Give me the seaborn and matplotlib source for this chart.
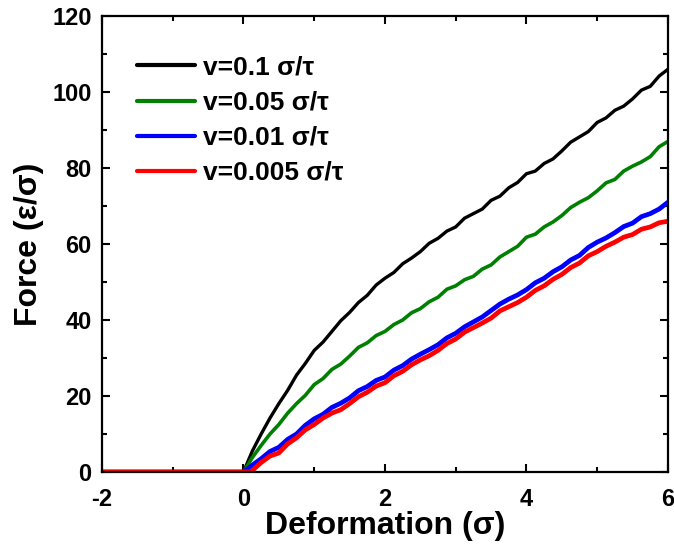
import numpy as np
import pandas as pd
import matplotlib
matplotlib.use("Agg")
import matplotlib.pyplot as plt
import seaborn as sns
from matplotlib.ticker import MultipleLocator

labels = ["v=0.1 σ/τ", "v=0.05 σ/τ", "v=0.01 σ/τ", "v=0.005 σ/τ"]
colors = ["#000000", "#008000", "#0000ff", "#ff0000"]

# deformation grid (sigma): flat region start, then 0 .. 6 in 0.125 steps
x_grid = [-2.0] + list(np.round(np.arange(0, 6.0001, 0.125), 3))

f_black = [0,
           0, 5.5, 10, 14.2, 18, 21.5, 25.5, 28.6, 32, 34.2, 37, 39.8, 42, 44.6, 46.5, 49.2,
           51, 52.5, 54.8, 56.3, 58, 60.2, 61.5, 63.4, 64.5, 66.8, 68, 69.2, 71.5, 72.6, 74.8, 76.2,
           78.5, 79.2, 81.2, 82.4, 84.5, 86.8, 88.2, 89.6, 92, 93.2, 95.2, 96.3, 98.2, 100.5, 101.5, 104.2,
           106]
f_green = [0,
           0, 3.8, 7, 10, 12.5, 15.5, 18, 20.2, 23, 24.6, 27, 28.4, 30.5, 32.8, 34, 35.9,
           37, 38.8, 40, 41.9, 43, 44.8, 46, 48.1, 49, 50.6, 51.5, 53.4, 54.5, 56.6, 58, 59.4,
           61.8, 62.6, 64.5, 65.8, 67.5, 69.6, 71, 72.2, 74, 76.1, 77, 79.2, 80.5, 81.6, 83, 85.6,
           87]
f_blue = [0,
          0, 1.8, 3.5, 5.4, 6.5, 8.6, 10, 12.3, 14, 15.2, 17, 18.1, 19.5, 21.4, 22.5, 24.1,
          25, 26.8, 28, 29.7, 31, 32.2, 33.5, 35.3, 36.5, 38.2, 39.5, 40.8, 42.5, 44.2, 45.5, 46.6,
          48, 49.8, 51, 52.7, 54, 55.8, 57, 59.1, 60.5, 61.6, 63, 64.6, 65.5, 67.2, 68, 69.2,
          71]
# red starts rising slightly later (x = 0.1)
x_red = [-2.0, 0.1] + list(np.round(np.arange(0.125, 6.0001, 0.125), 3))
f_red = [0, 0,
         0.4, 2.5, 4.2, 5, 7.4, 9, 11.1, 12.5, 14.2, 15.5, 16.4, 18, 19.8, 21, 22.6,
         23.5, 25.3, 26.5, 28.2, 29.5, 30.6, 32, 33.8, 35, 36.8, 38, 39.2, 40.5, 42.4, 43.5, 44.6,
         46, 47.8, 49, 50.7, 52, 53.8, 55, 56.9, 58, 59.4, 60.5, 61.8, 62.5, 63.9, 64.5, 65.6,
         66]

xs = [x_grid, x_grid, x_grid, x_red]
fs = [f_black, f_green, f_blue, f_red]
rows = []
for lab, xx, ff in zip(labels, xs, fs):
    for a, b in zip(xx, ff):
        rows.append({"Deformation": a, "Force": b, "series": lab})
df = pd.DataFrame(rows)

sns.set_style("ticks")
plt.rcParams['font.family'] = ['Liberation Sans', 'DejaVu Sans']
plt.rcParams['font.weight'] = 'bold'
plt.rcParams['axes.unicode_minus'] = False
for k in ['text.color', 'axes.labelcolor', 'xtick.color', 'ytick.color', 'axes.edgecolor']:
    plt.rcParams[k] = 'black'

fig = plt.figure(figsize=(6.74, 5.54), dpi=100)
ax = fig.add_axes([0.1513, 0.148, 0.991 - 0.1513, 0.971 - 0.148])

widths = [2.4, 2.6, 3.4, 3.4]
for lab, col, lw in zip(labels, colors, widths):
    sub = df[df["series"] == lab]
    sns.lineplot(data=sub, x="Deformation", y="Force", color=col, lw=lw,
                 label=lab, ax=ax, sort=False, estimator=None)

ax.set_xlim(-2, 6)
ax.set_ylim(0, 120)
ax.xaxis.set_major_locator(MultipleLocator(2))
ax.xaxis.set_minor_locator(MultipleLocator(1))
ax.yaxis.set_major_locator(MultipleLocator(20))
ax.yaxis.set_minor_locator(MultipleLocator(10))
ax.tick_params(which='both', direction='in', top=True, right=True, width=1.5)
ax.tick_params(which='major', length=6, labelsize=17)
ax.tick_params(axis='x', which='major', pad=11.5)
ax.tick_params(axis='y', which='major', pad=7.5)
ax.tick_params(which='minor', length=3.5)
for t in ax.get_xticklabels() + ax.get_yticklabels():
    t.set_fontweight('bold')
for s in ax.spines.values():
    s.set_linewidth(1.6)
    s.set_color('black')

ax.set_xlabel("Deformation (σ)", fontsize=23, fontweight='bold', labelpad=0)
ax.set_ylabel("Force (ε/σ)", fontsize=23, fontweight='bold', labelpad=6)

leg = ax.legend(loc='upper left', frameon=False, prop={'size': 19, 'weight': 'bold'},
                handlelength=2.2, handletextpad=0.3, labelspacing=0.42,
                borderaxespad=0, borderpad=0,
                bbox_to_anchor=(0.062, 0.913))
for h in leg.get_lines():
    h.set_linewidth(3)

fig.savefig("out.png", dpi=100)
